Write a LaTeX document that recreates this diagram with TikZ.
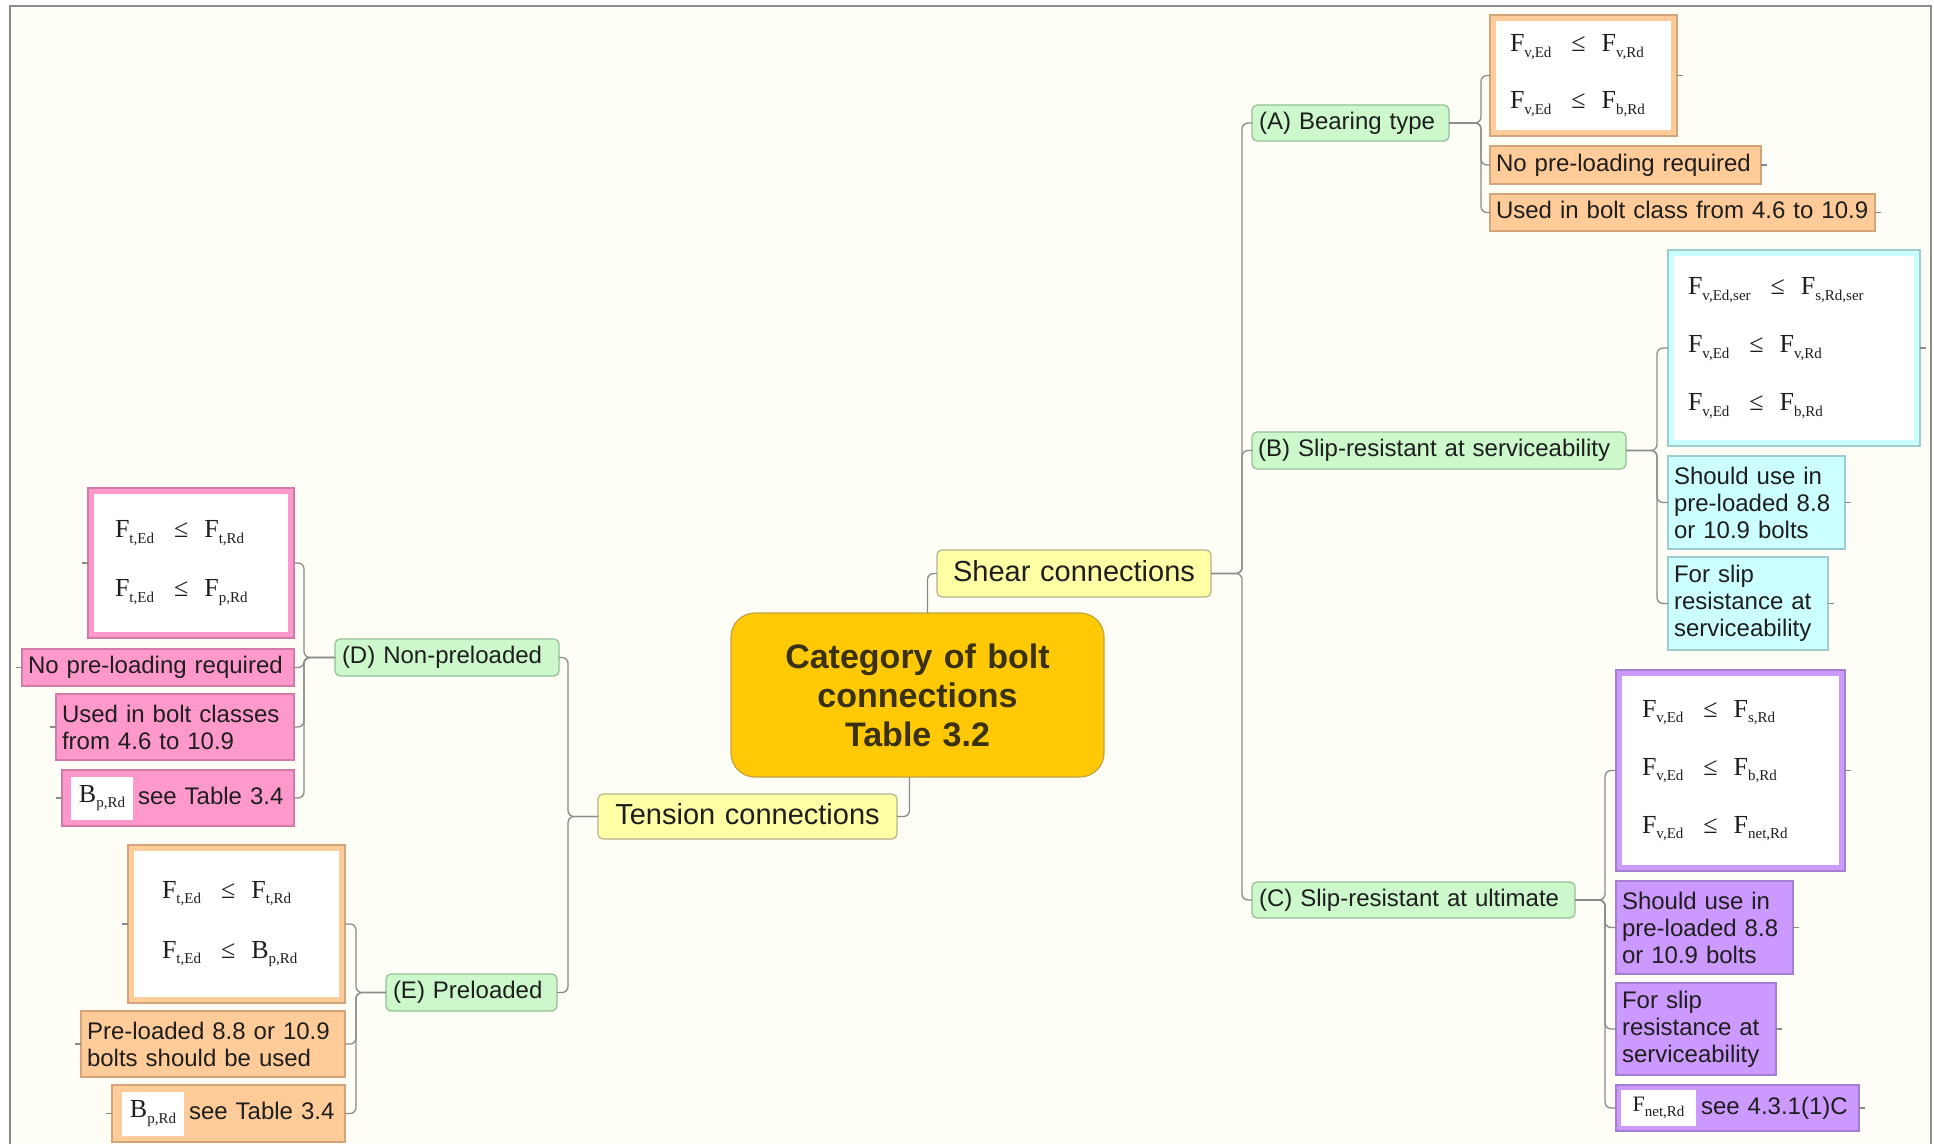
\documentclass[tikz,border=0pt]{standalone}
\usepackage{fontspec}
\setmainfont{Liberation Sans}
\newfontfamily\fserif{Liberation Serif}

% lowered index for the resistance formulas
\newcommand\lowsub[1]{\raisebox{-5.5pt}{\fontsize{15}{15}\selectfont #1}}
\newcommand\fq[2]{#1\lowsub{#2}}
\newcommand\ineq[4]{\fq{#1}{#2}\hspace{20pt}≤\hspace{16pt}\fq{#3}{#4}}

\definecolor{paper}{HTML}{FEFEF7}
\definecolor{frameline}{HTML}{8C8C8C}
\definecolor{connc}{HTML}{8A8A8A}
\definecolor{txt}{HTML}{1E1E1E}
\definecolor{rootfill}{HTML}{FFC905}
\definecolor{rootdraw}{HTML}{C8A23C}
\definecolor{roottxt}{HTML}{3A3110}
\definecolor{yelfill}{HTML}{FFFFA6}
\definecolor{yeldraw}{HTML}{B4B48C}
\definecolor{grnfill}{HTML}{CCF8CC}
\definecolor{grndraw}{HTML}{96BE96}
\definecolor{orgfill}{HTML}{FFCC99}
\definecolor{orgdraw}{HTML}{D4A57A}
\definecolor{cyafill}{HTML}{CCFFFF}
\definecolor{cyadraw}{HTML}{9CCDD2}
\definecolor{purfill}{HTML}{CC99FF}
\definecolor{purdraw}{HTML}{A47FD0}
\definecolor{pnkfill}{HTML}{FF99CC}
\definecolor{pnkdraw}{HTML}{D27BA7}

\tikzset{
  % rect={x1,y1,x2,y2,left padding}: box placed by its top-left corner
  rect/.code args={#1,#2,#3,#4,#5}{%
    \pgfmathsetmacro\rectw{#3-(#1)}%
    \pgfmathsetmacro\recth{#4-(#2)}%
    \pgfmathsetmacro\rectt{#3-(#1)-2*(#5)}%
    \edef\rectopts{minimum width=\rectw pt,minimum height=\recth pt,text width=\rectt pt,inner xsep=#5pt,at={(#1,#2)}}%
    \expandafter\pgfkeysalso\expandafter{\rectopts}%
  },
  tb/.style={draw, anchor=north west, inner ysep=0pt, outer sep=0pt, align=left,
    text=txt, line width=1.2pt, font=\fontsize{24}{27}\selectfont},
  oneline/.style={text height=17.5pt, text depth=5pt},
  rootbox/.style={tb, fill=rootfill, draw=rootdraw, rounded corners=24pt, align=center,
    text=roottxt, font=\bfseries\fontsize{34}{39}\selectfont},
  mainbox/.style={tb, fill=yelfill, draw=yeldraw, rounded corners=5pt, align=center,
    font=\fontsize{29}{33}\selectfont, text height=21pt, text depth=6pt},
  catbox/.style={tb, oneline, fill=grnfill, draw=grndraw, rounded corners=5pt},
  leaf/.style={tb, fill=#1fill, draw=#1draw},
  eqbox/.style={tb, fill=#1fill, draw=#1draw,
    path picture={\fill[white] ([shift={(6pt,-6pt)}]path picture bounding box.north west)
      rectangle ([shift={(-6pt,6pt)}]path picture bounding box.south east);}},
  eqfont/.style={font=\fserif\fontsize{26}{#1}\selectfont},
  conn/.style={draw=connc, line width=1.3pt, rounded corners=6pt},
}

\newcommand\whitecell[4]{{\fboxsep=0pt\colorbox{white}{\parbox[c][#2pt][c]{#1pt}{\centering\fserif\fontsize{#3}{#3}\selectfont #4}}}}

\begin{document}
\begin{tikzpicture}[x=1pt,y=-1pt]
\fill[white] (0,0) rectangle (1934,1144);
\useasboundingbox (0,0) rectangle (1934,1144);
\fill[paper] (10,6) rectangle (1931,1144);
\draw[frameline, line width=2pt] (10,1144) -- (10,6) -- (1931,6) -- (1931,1144);

% centre and the two main branches
\node[rootbox, rect={731,613,1104,777,10}] (root) {Category of bolt\\connections\\Table 3.2};
\node[mainbox, rect={937,550,1211,597,8}] (shear) {Shear connections};
\node[mainbox, rect={598,794,897,839,8}] (tension) {Tension connections};

% shear categories
\node[catbox, rect={1252,105,1449,141,7}] (A) {(A) Bearing type};
\node[catbox, rect={1252,432,1626,469,6}] (B) {(B) Slip-resistant at serviceability};
\node[catbox, rect={1252,882,1575,918,7}] (C) {(C) Slip-resistant at ultimate};

% tension categories
\node[catbox, rect={335,639,559,676,7}] (D) {(D) Non-preloaded};
\node[catbox, rect={386,974,557,1011,7}] (E) {(E) Preloaded};

% (A) bearing type
\node[eqbox=org, eqfont=57, rect={1490,15,1677,136,20}] (FormA)
  {\ineq{F}{v,Ed}{F}{v,Rd}\\\ineq{F}{v,Ed}{F}{b,Rd}};
\node[leaf=org, oneline, rect={1490,146,1761,184,6}] (NoPreA) {No pre-loading required};
\node[leaf=org, oneline, rect={1490,194,1875,231,6}] (UsedA) {Used in bolt class from 4.6 to 10.9};

% (B) slip-resistant at serviceability
\node[eqbox=cya, eqfont=58, rect={1668,250,1920,446,20}] (FormB)
  {\ineq{F}{v,Ed,ser}{F}{s,Rd,ser}\\\ineq{F}{v,Ed}{F}{v,Rd}\\\ineq{F}{v,Ed}{F}{b,Rd}};
\node[leaf=cya, rect={1668,456,1845,549,6}] (ShouldB) {Should use in\\pre-loaded 8.8\\or 10.9 bolts};
\node[leaf=cya, rect={1668,557,1828,650,6}] (ForSlipB) {For slip\\resistance at\\serviceability};

% (C) slip-resistant at ultimate
\node[eqbox=pur, eqfont=58, rect={1616,670,1845,871,26}] (FormC)
  {\ineq{F}{v,Ed}{F}{s,Rd}\\\ineq{F}{v,Ed}{F}{b,Rd}\\\ineq{F}{v,Ed}{F}{net,Rd}};
\node[leaf=pur, rect={1616,881,1793,974,6}] (ShouldC) {Should use in\\pre-loaded 8.8\\or 10.9 bolts};
\node[leaf=pur, rect={1616,983,1776,1075,6}] (ForSlipC) {For slip\\resistance at\\serviceability};
\node[leaf=pur, rect={1616,1085,1859,1131,5}] (FnetC)
  {\mbox{\whitecell{75}{36}{22}{\fq{F}{net,Rd}}\hspace{5pt}see 4.3.1(1)C}};

% (D) non-preloaded
\node[eqbox=pnk, eqfont=59, rect={88,488,294,638,27}] (FormD)
  {\ineq{F}{t,Ed}{F}{t,Rd}\\\ineq{F}{t,Ed}{F}{p,Rd}};
\node[leaf=pnk, oneline, rect={22,649,294,686,6}] (NoPreD) {No pre-loading required};
\node[leaf=pnk, rect={56,694,294,760,6}] (UsedD) {Used in bolt classes\\from 4.6 to 10.9};
\node[leaf=pnk, rect={62,770,294,826,9}] (BpD)
  {\mbox{\whitecell{62}{43}{26}{\fq{B}{p,Rd}}\hspace{5pt}see Table 3.4}};

% (E) preloaded
\node[eqbox=org, eqfont=60, rect={128,845,345,1003,34}] (FormE)
  {\ineq{F}{t,Ed}{F}{t,Rd}\\\ineq{F}{t,Ed}{B}{p,Rd}};
\node[leaf=org, rect={81,1011,345,1077,6}] (PreE) {Pre-loaded 8.8 or 10.9\\bolts should be used};
\node[leaf=org, rect={112,1085,345,1142,10}] (BpE)
  {\mbox{\whitecell{62}{44}{26}{\fq{B}{p,Rd}}\hspace{5pt}see Table 3.4}};

% junction points of the brackets
\coordinate (jS) at (1242,573.5);
\coordinate (jT) at (568,816.5);
\coordinate (jA) at (1481,123);
\coordinate (jB) at (1657,450.5);
\coordinate (jC) at (1605,900);
\coordinate (jD) at (304,657.5);
\coordinate (jE) at (356,992.5);

% centre to main branches
\draw[conn] ([xshift=10pt]root.north) |- (shear.west);
\draw[conn] ([xshift=-8pt]root.south) |- (tension.east);

% main branches to categories
\foreach \c in {A,B,C} \draw[conn] (shear.east) -- (jS) |- (\c.west);
\foreach \c in {D,E} \draw[conn] (tension.west) -- (jT) |- (\c.east);

% categories to their items
\foreach \c in {FormA,NoPreA,UsedA} \draw[conn] (A.east) -- (jA) |- (\c.west);
\foreach \c in {FormB,ShouldB,ForSlipB} \draw[conn] (B.east) -- (jB) |- (\c.west);
\foreach \c in {FormC,ShouldC,ForSlipC,FnetC} \draw[conn] (C.east) -- (jC) |- (\c.west);
\foreach \c in {FormD,NoPreD,UsedD,BpD} \draw[conn] (D.west) -- (jD) |- (\c.east);
\foreach \c in {FormE,PreE,BpE} \draw[conn] (E.west) -- (jE) |- (\c.east);

% short stubs on the outer side of the items
\foreach \c in {FormA,NoPreA,UsedA,FormB,ShouldB,ForSlipB,FormC,ShouldC,ForSlipC,FnetC}
  \draw[conn] (\c.east) -- ++(6,0);
\foreach \c in {FormD,NoPreD,UsedD,BpD,FormE,PreE,BpE}
  \draw[conn] (\c.west) -- ++(-6,0);
\end{tikzpicture}
\end{document}
